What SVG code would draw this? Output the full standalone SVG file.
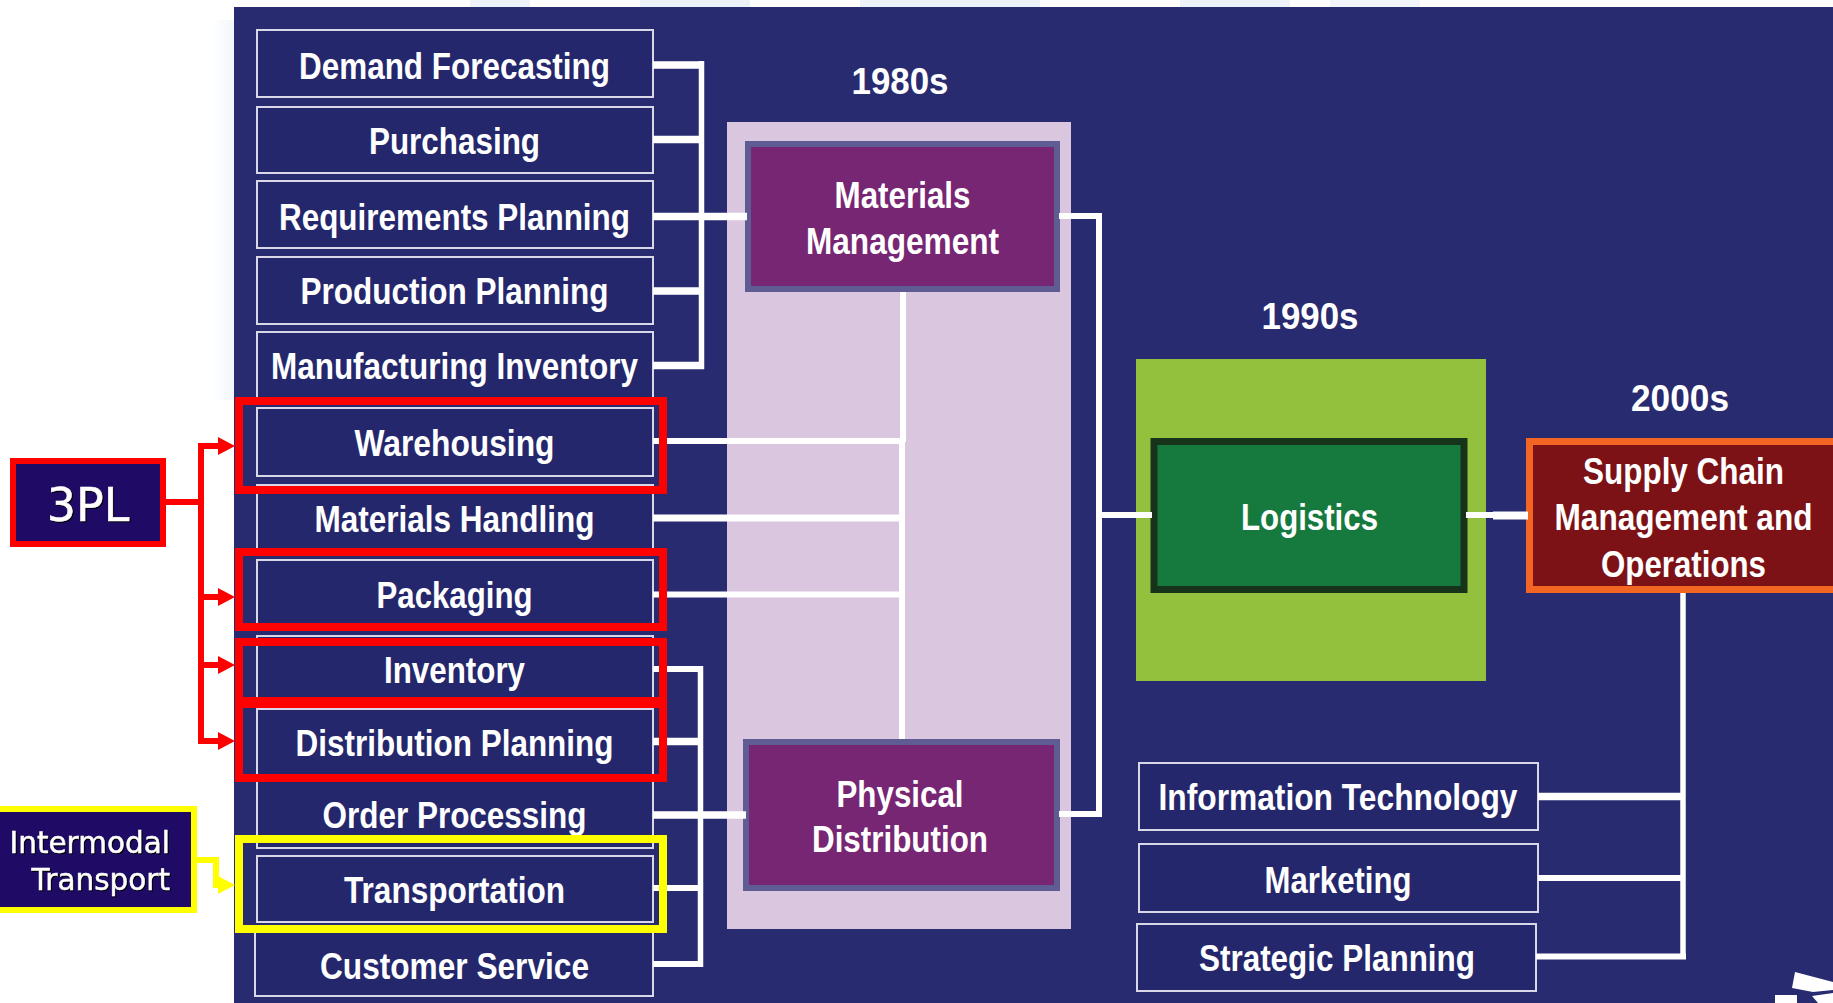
<svg xmlns="http://www.w3.org/2000/svg" width="1833" height="1003" viewBox="0 0 1833 1003">
<style>
text{font-family:"Liberation Sans",Arial,sans-serif;font-weight:bold;font-size:37px;fill:#fff;text-anchor:middle}
.box{fill:#25276c;stroke:#d8d8e8;stroke-width:2}
.big{fill:#772673;stroke:#5f5c94;stroke-width:6}
.w{fill:none;stroke:#fff;stroke-width:6}
.v{fill:none;stroke:#fff;stroke-width:5.500}
.t{fill:none;stroke:#fff;stroke-width:7.500}
.r{fill:none;stroke:#f00;stroke-width:6}
.y{fill:none;stroke:#ff0;stroke-width:6}
.hr{fill:none;stroke:#f00;stroke-width:8}
.hy{fill:none;stroke:#ff0;stroke-width:8}
.call{fill:#1f0a66;stroke-width:6}
.tag{font-family:"DejaVu Sans",sans-serif;font-weight:normal;stroke:#fff;stroke-width:.5px;filter:drop-shadow(1.500px 1.500px 0 #000)}
</style>
<defs>
<marker id="ar" markerUnits="userSpaceOnUse" markerWidth="18" markerHeight="20" refX="0" refY="10" orient="auto"><path d="M0,1 L17,10 L0,19 Z" fill="#f00"/></marker>
<marker id="ay" markerUnits="userSpaceOnUse" markerWidth="18" markerHeight="20" refX="0" refY="10" orient="auto"><path d="M0,1 L17,10 L0,19 Z" fill="#ff0"/></marker>
<linearGradient id="wm" x1="0" x2="1" y1="0" y2="0"><stop offset="0" stop-color="#fff"/><stop offset="1" stop-color="#f2f6fc"/></linearGradient>
</defs>
<rect width="1833" height="1003" fill="#fff"/>
<g id="watermark">
<rect x="212" y="20" width="22" height="380" fill="url(#wm)"/>
<rect x="470" y="0" width="60" height="7" fill="#edf2fa"/>
<rect x="640" y="0" width="110" height="7" fill="#edf2fa"/>
<rect x="860" y="0" width="180" height="7" fill="#edf2fa"/>
<rect x="1180" y="0" width="110" height="7" fill="#edf2fa"/>
<rect x="1330" y="0" width="90" height="7" fill="#f1f5fb"/>
</g>
<rect id="panel" x="234" y="7" width="1599" height="996" fill="#292b70"/>
<rect id="era-1980s-band" x="727" y="122" width="344" height="807" fill="#dbc6e0"/>
<rect id="era-1990s-band" x="1136" y="359" width="350" height="322" fill="#93c13d"/>

<g id="label-1980s"><text x="900" y="94" textLength="97" lengthAdjust="spacingAndGlyphs">1980s</text></g>
<g id="label-1990s"><text x="1310" y="329" textLength="97" lengthAdjust="spacingAndGlyphs">1990s</text></g>
<g id="label-2000s"><text x="1680" y="411" textLength="98" lengthAdjust="spacingAndGlyphs">2000s</text></g>

<g id="demand-forecasting"><rect class="box" x="257" y="30" width="396" height="67"/><text x="454.500" y="79" textLength="311" lengthAdjust="spacingAndGlyphs">Demand Forecasting</text></g>
<g id="purchasing"><rect class="box" x="257" y="107" width="396" height="66"/><text x="454.500" y="154" textLength="171" lengthAdjust="spacingAndGlyphs">Purchasing</text></g>
<g id="requirements-planning"><rect class="box" x="257" y="181" width="396" height="67"/><text x="454.500" y="230" textLength="351" lengthAdjust="spacingAndGlyphs">Requirements Planning</text></g>
<g id="production-planning"><rect class="box" x="257" y="257" width="396" height="67"/><text x="454.500" y="304" textLength="308" lengthAdjust="spacingAndGlyphs">Production Planning</text></g>
<g id="manufacturing-inventory"><rect class="box" x="257" y="332" width="396" height="70"/><text x="454.500" y="379" textLength="367" lengthAdjust="spacingAndGlyphs">Manufacturing Inventory</text></g>
<g id="warehousing"><rect class="box" x="257" y="408" width="396" height="68"/><text x="454.500" y="456" textLength="200" lengthAdjust="spacingAndGlyphs">Warehousing</text></g>
<g id="materials-handling"><rect class="box" x="257" y="485" width="396" height="68"/><text x="454.500" y="532" textLength="280" lengthAdjust="spacingAndGlyphs">Materials Handling</text></g>
<g id="packaging"><rect class="box" x="257" y="560" width="396" height="68"/><text x="454.500" y="608" textLength="156" lengthAdjust="spacingAndGlyphs">Packaging</text></g>
<g id="inventory"><rect class="box" x="257" y="636" width="396" height="64"/><text x="454.500" y="683" textLength="141" lengthAdjust="spacingAndGlyphs">Inventory</text></g>
<g id="distribution-planning"><rect class="box" x="257" y="709" width="396" height="66"/><text x="454.500" y="756" textLength="318" lengthAdjust="spacingAndGlyphs">Distribution Planning</text></g>
<g id="order-processing"><rect class="box" x="257" y="780" width="396" height="68"/><text x="454.500" y="828" textLength="264" lengthAdjust="spacingAndGlyphs">Order Processing</text></g>
<g id="transportation"><rect class="box" x="257" y="856" width="396" height="66"/><text x="454.500" y="903" textLength="221" lengthAdjust="spacingAndGlyphs">Transportation</text></g>
<g id="customer-service"><rect class="box" x="255" y="930" width="398" height="66"/><text x="454.500" y="979" textLength="269" lengthAdjust="spacingAndGlyphs">Customer Service</text></g>

<g id="materials-management"><rect class="big" x="748" y="144" width="309" height="145"/><text x="902.500" y="208" textLength="136" lengthAdjust="spacingAndGlyphs">Materials</text><text x="902.500" y="254" textLength="193" lengthAdjust="spacingAndGlyphs">Management</text></g>
<g id="physical-distribution"><rect class="big" x="746" y="742" width="311" height="146"/><text x="900" y="807" textLength="127" lengthAdjust="spacingAndGlyphs">Physical</text><text x="900" y="852" textLength="176" lengthAdjust="spacingAndGlyphs">Distribution</text></g>
<g id="logistics"><rect x="1154" y="441.500" width="310" height="148" fill="#167a3f" stroke="#17331a" stroke-width="7"/><text x="1309.500" y="530" textLength="137" lengthAdjust="spacingAndGlyphs">Logistics</text></g>
<g id="scm"><rect x="1529.500" y="441.500" width="320" height="148" fill="#7d1216" stroke="#f26522" stroke-width="7"/><text x="1683.500" y="484" textLength="201" lengthAdjust="spacingAndGlyphs">Supply Chain</text><text x="1683.500" y="530" textLength="258" lengthAdjust="spacingAndGlyphs">Management and</text><text x="1683.500" y="577" textLength="165" lengthAdjust="spacingAndGlyphs">Operations</text></g>
<g id="information-technology"><rect class="box" x="1139" y="763" width="399" height="67"/><text x="1338" y="810" textLength="359" lengthAdjust="spacingAndGlyphs">Information Technology</text></g>
<g id="marketing"><rect class="box" x="1139" y="844" width="399" height="68"/><text x="1338" y="893" textLength="147" lengthAdjust="spacingAndGlyphs">Marketing</text></g>
<g id="strategic-planning"><rect class="box" x="1137" y="924" width="399" height="67"/><text x="1337" y="971" textLength="276" lengthAdjust="spacingAndGlyphs">Strategic Planning</text></g>

<g id="connectors">
<path class="v" d="M701.500,61 V369"/>
<path class="t" d="M653,65 H704 M653,139.500 H704 M653,216.500 H747 M653,291 H704 M653,365.500 H704"/>
<path class="v" d="M700.500,666 V967"/>
<path class="w" d="M653,669 H703 M653,888 H703 M653,964 H703"/>
<path class="t" d="M653,741.500 H703 M653,815 H746"/>
<path class="w" d="M903,292 V442"/>
<path class="w" d="M902,440 V739"/>
<path class="w" d="M653,441 H903 M653,594.500 H903"/>
<path class="t" d="M653,518 H903" style="stroke-width:7"/>
<path class="w" d="M1059,216 H1099 V814 H1059 M1099,515 H1152"/>
<path class="w" d="M1466,515 H1495"/>
<path class="w" d="M1493,515.500 H1528" style="stroke-width:8"/>
<path class="v" d="M1683,593 V959"/>
<path class="t" d="M1538,796.500 H1683"/>
<path class="w" d="M1538,878 H1683 M1536,956.500 H1686"/>
<path class="r" d="M166,502 H201"/>
<path class="r" d="M201,443 V744"/>
<path class="r" d="M198,446 H218" marker-end="url(#ar)"/>
<path class="r" d="M201,597 H218" marker-end="url(#ar)"/>
<path class="r" d="M201,665 H218" marker-end="url(#ar)"/>
<path class="r" d="M198,741 H218" marker-end="url(#ar)"/>
<path class="y" d="M194,860 H216 V885 H218" marker-end="url(#ay)"/>
</g>

<g id="highlight-warehousing"><rect class="hr" x="239" y="401" width="424" height="89"/></g>
<g id="highlight-packaging"><rect class="hr" x="239" y="552" width="424" height="75"/></g>
<g id="highlight-inventory"><rect class="hr" x="239" y="642" width="424" height="59"/></g>
<g id="highlight-distribution"><rect class="hr" x="239" y="704" width="424" height="74"/></g>
<g id="highlight-transportation"><rect class="hy" x="239" y="839" width="424" height="90"/></g>

<g id="tag-3pl"><rect class="call" x="13" y="461" width="150" height="83" stroke="#f00"/><text class="tag" x="88" y="521" style="font-size:46px">3PL</text></g>
<g id="tag-intermodal"><rect class="call" x="-6" y="809" width="200" height="101" stroke="#ff0"/><text class="tag" x="170" y="853" style="font-size:29.500px;text-anchor:end">Intermodal</text><text class="tag" x="170" y="890" style="font-size:29.500px;text-anchor:end">Transport</text></g>

<g id="logo" fill="#fff"><path d="M1795,972 L1833,982 V990 L1813,992 L1792,988 Z"/><path d="M1775,995 H1797 V1003 H1775 Z"/><path d="M1812,996 L1833,993 V1003 H1818 Z"/></g>
</svg>
